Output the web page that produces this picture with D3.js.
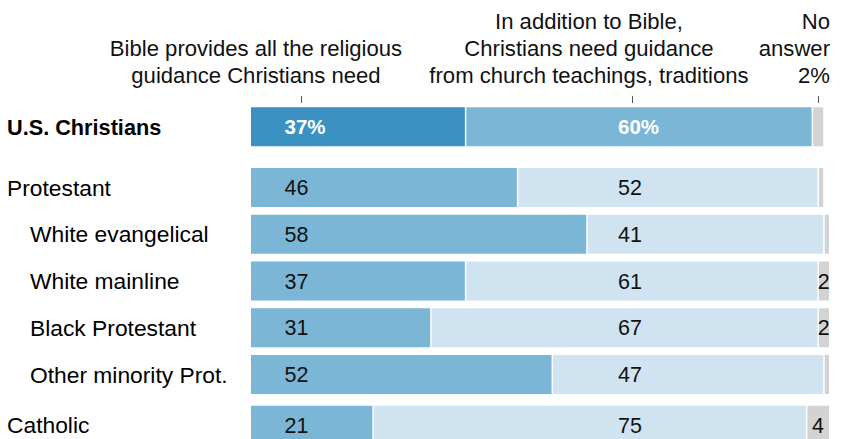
<!DOCTYPE html>
<html>
<head>
<meta charset="utf-8">
<script src="https://cdn.jsdelivr.net/npm/d3@7"></script>
<style>
  body { margin: 0; background: #fff; }
  svg { display: block; font-family: "Liberation Sans", Arial, sans-serif; }
</style>
</head>
<body>
<svg id="drawing_region"></svg>
<script>
// values (percent)
const groups = ["U.S. Christians", "Protestant", "White evangelical", "White mainline",
                "Black Protestant", "Other minority Prot.", "Catholic"];
const bibleOnly = [37, 46, 58, 37, 31, 52, 21];
const churchToo = [60, 52, 41, 61, 67, 47, 75];
const noAnswer  = [2, 1, 1, 2, 2, 1, 4];
const subgroups = ["White evangelical", "White mainline", "Black Protestant", "Other minority Prot."];

const headers = [
    {lines: ["Bible provides all the religious", "guidance Christians need"], x: 256, anchor: "middle", tick: 301},
    {lines: ["In addition to Bible,", "Christians need guidance", "from church teachings, traditions"], x: 589, anchor: "middle", tick: 632},
    {lines: ["No", "answer", "2%"], x: 830, anchor: "end", tick: 818}
];

const width = 842, height = 439;
// total row: dark, medium, grey ; other rows: medium, light, grey
const totalColors = ["#3a91c2", "#7bb6d7", "#d3d3d3"];
const rowColors = ["#7bb6d7", "#d0e3f1", "#d3d3d3"];

const svg = d3.select("#drawing_region")
    .attr("width", width)
    .attr("height", height);

const xscale = d3.scaleLinear().domain([0, 100]).range([251, 829]);
const rowscale = d3.scaleLinear().domain([1, 5]).range([168, 355]);
const barH = 39;
const rowTop = i => i === 0 ? rowscale(0) - 14 : (i === 6 ? rowscale(6) + 4 : rowscale(i));

const rows = groups.map((g, i) => {
    const vals = [bibleOnly[i], churchToo[i], noAnswer[i]];
    let acc = 0;
    const segs = vals.map((v, k) => {
        const s = {k: k, v: v, x0: acc, x1: acc + v};
        acc += v;
        return s;
    });
    return {name: g, i: i, segs: segs};
});

// headers
const head = svg.append("g").attr("font-size", 22.1).attr("fill", "#111");
headers.forEach(h => {
    const n = h.lines.length;
    h.lines.forEach((l, j) => {
        head.append("text")
            .attr("x", h.x)
            .attr("y", 83 - (n - 1 - j) * 27)
            .attr("text-anchor", h.anchor)
            .text(l);
    });
    head.append("line")
        .attr("x1", h.tick + 0.5).attr("x2", h.tick + 0.5)
        .attr("y1", 96).attr("y2", 103)
        .attr("stroke", "#555").attr("stroke-width", 1);
});

const row = svg.selectAll("g.row")
    .data(rows)
    .enter()
    .append("g")
    .attr("class", "row")
    .attr("transform", d => `translate(0, ${rowTop(d.i)})`);

// row labels
row.append("text")
    .attr("x", d => subgroups.includes(d.name) ? 30 : 7)
    .attr("y", barH / 2 + 8)
    .attr("font-size", d => d.i === 0 ? 21.7 : 22.8)
    .attr("font-weight", d => d.i === 0 ? "bold" : "normal")
    .attr("fill", "#000")
    .text(d => d.name);

// segments, white gap on the left of each following segment
const gap = 1.5;
row.selectAll("rect")
    .data(d => d.segs.map(s => Object.assign({row: d.i}, s)))
    .enter()
    .append("rect")
    .attr("x", s => xscale(s.x0) + (s.k > 0 ? gap : 0))
    .attr("y", 0)
    .attr("width", s => Math.max(0, xscale(s.x1) - xscale(s.x0) - (s.k > 0 ? gap : 0)))
    .attr("height", barH)
    .attr("fill", s => s.row === 0 ? totalColors[s.k] : rowColors[s.k]);

// value labels
row.each(function(d) {
    const g = d3.select(this);
    const first = d.i === 0;
    [0, 1].forEach(k => {
        g.append("text")
            .attr("x", k === 0 ? xscale(5.8) : xscale(63.5))
            .attr("y", barH / 2 + 7.5)
            .attr("font-size", first ? 20.5 : 21.5)
            .attr("font-weight", first ? "bold" : "normal")
            .attr("fill", first ? "#fff" : "#111")
            .text(first ? d.segs[k].v + "%" : d.segs[k].v);
    });
    const na = d.segs[2];
    if (!first && na.v >= 2) {
        g.append("text")
            .attr("x", (xscale(na.x0) + xscale(na.x1)) / 2 + 0.5)
            .attr("y", barH / 2 + 7.5)
            .attr("text-anchor", "middle")
            .attr("font-size", 21.5)
            .attr("fill", "#111")
            .text(na.v);
    }
});
</script>
</body>
</html>
